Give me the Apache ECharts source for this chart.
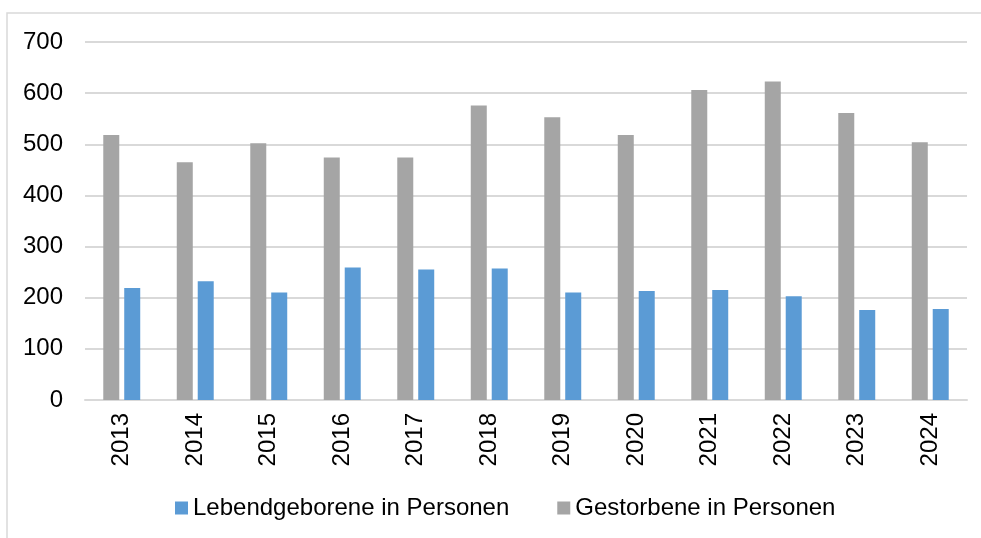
<!DOCTYPE html>
<html>
<head>
    <meta charset="utf-8">
    <title>Geborene und Gestorbene</title>
    <script src="https://cdn.jsdelivr.net/npm/echarts@6.0.0/dist/echarts.min.js"></script>
    <style>
        html, body { margin: 0; padding: 0; background: #fff; }
    </style>
</head>
<body>
<div id="main" style="width: 981px;height:538px;"></div>
<script type="text/javascript">
    // Daten
    var jahre = ['2013', '2014', '2015', '2016', '2017', '2018', '2019', '2020', '2021', '2022', '2023', '2024'];
    var lebendgeborene = [219, 232, 210, 259, 255, 257, 210, 213, 215, 203, 176, 178];
    var gestorbene = [518, 465, 502, 474, 474, 576, 553, 518, 606, 623, 561, 504];
    var yTicks = [0, 100, 200, 300, 400, 500, 600, 700];

    var myChart = echarts.init(document.getElementById('main'));
    var font = 'Liberation Sans, Arial, sans-serif';

    var option = {
        backgroundColor: '#fff',
        animation: false,
        grid: {
            left: 85,
            right: 14,
            top: 42,
            bottom: 138
        },
        legend: {
            data: ['Lebendgeborene in Personen', 'Gestorbene in Personen'],
            left: 170,
            top: 491,
            icon: 'rect',
            itemWidth: 13,
            itemHeight: 13,
            itemGap: 48,
            textStyle: {
                fontFamily: font,
                fontSize: 24,
                color: '#000'
            }
        },
        xAxis: {
            type: 'category',
            data: jahre,
            axisTick: { show: false },
            axisLine: { lineStyle: { color: '#D9D9D9', width: 2 } },
            axisLabel: {
                rotate: 90,
                margin: 13,
                fontFamily: font,
                fontSize: 24,
                color: '#000'
            }
        },
        yAxis: {
            type: 'value',
            min: yTicks[0],
            max: yTicks[yTicks.length - 1],
            interval: 100,
            axisLine: { show: false },
            axisTick: { show: false },
            axisLabel: {
                margin: 22,
                fontFamily: font,
                fontSize: 24,
                color: '#000'
            },
            splitLine: { lineStyle: { color: '#D9D9D9', width: 2 } }
        },
        series: [{
            name: 'Gestorbene in Personen',
            type: 'bar',
            data: gestorbene,
            barWidth: 16,
            barGap: '31%',
            itemStyle: { color: '#A5A5A5' }
        }, {
            name: 'Lebendgeborene in Personen',
            type: 'bar',
            data: lebendgeborene,
            barWidth: 16,
            barGap: '31%',
            itemStyle: { color: '#5B9BD5' }
        }],
        graphic: {
            elements: [{
                type: 'rect',
                shape: { x: 7, y: 13, width: 1000, height: 600 },
                style: { fill: 'none', stroke: '#D9D9D9', lineWidth: 1.5 },
                silent: true
            }]
        }
    };

    myChart.setOption(option);
</script>
</body>
</html>
